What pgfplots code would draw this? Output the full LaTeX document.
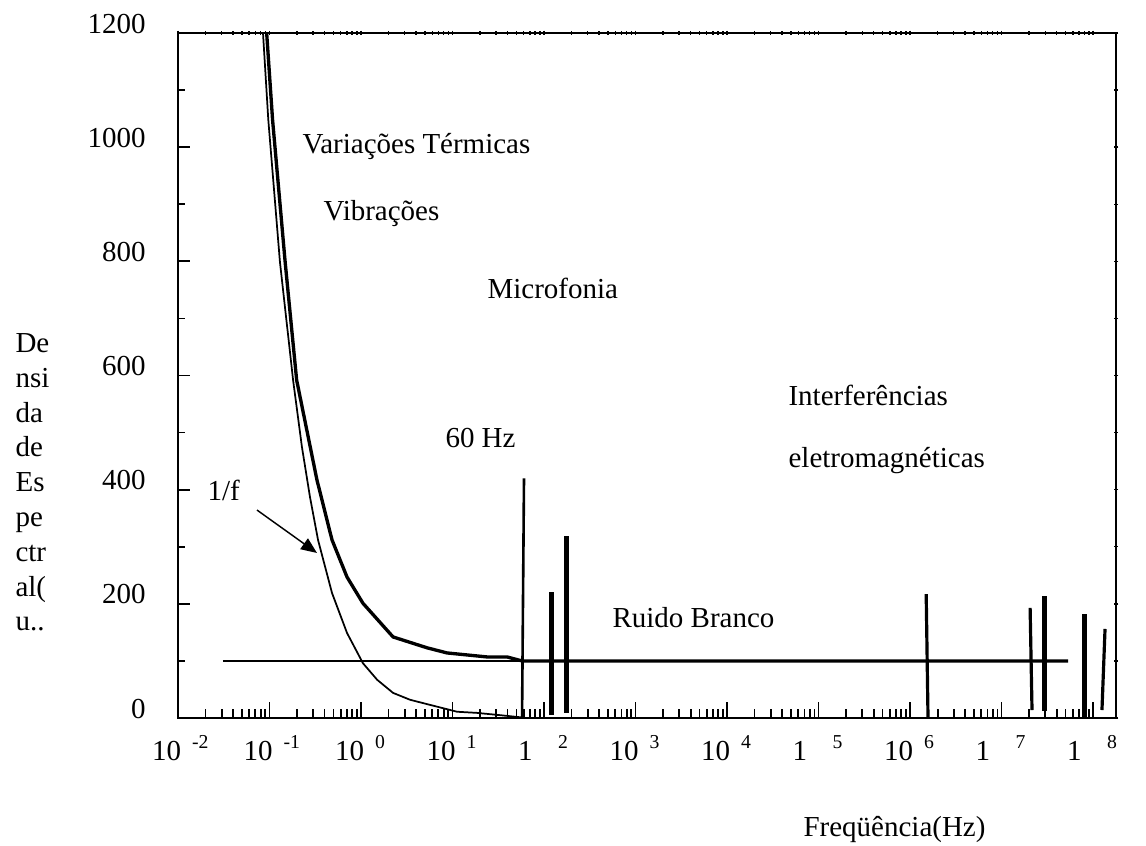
\documentclass[border=0pt]{standalone}
\usepackage{fontspec}
\setmainfont{Liberation Serif}
\usepackage{pgfplots}
\pgfplotsset{compat=1.18}
\usetikzlibrary{arrows.meta}
\newcommand{\sx}[2]{\llap{#1}\hspace{3.8pt}\raisebox{0.4em}{\fontsize{6.8}{8}\selectfont #2}}
\begin{document}
\begin{tikzpicture}
\useasboundingbox (-61.41pt,-43.815pt) rectangle (333.96pt,247.71pt);
\begin{axis}[
  at={(0,0)}, anchor=south west,
  scale only axis, width=323.61pt, height=236.325pt,
  xmode=log, xmin=1e-2, xmax=1.78e8,
  ymin=0, ymax=1200,
  axis line style={line width=0.7pt},
  tick pos=left, tick align=inside,
  tick style={black, line width=0.6pt},
  xtick style={/pgfplots/major tick length=5.5pt,/pgfplots/minor tick length=3.1pt},
  ytick style={/pgfplots/major tick length=4.1pt,/pgfplots/minor tick length=2.4pt},
  xtick={1e-2,1e-1,1,10,100,1000,1e4,1e5,1e6,1e7,1e8},
  xticklabels={\sx{10}{-2},\sx{10}{-1},\sx{10}{0},\sx{10}{1},\sx{1\phantom{0}}{2},\sx{10}{3},\sx{10}{4},\sx{1\phantom{0}}{5},\sx{10}{6},\sx{1\phantom{0}}{7},\sx{1\phantom{0}}{8}},
  minor xtick={2e-2,3e-2,4e-2,5e-2,6e-2,7e-2,8e-2,9e-2,
    0.2,0.3,0.4,0.5,0.6,0.7,0.8,0.9,
    2,3,4,5,6,7,8,9,
    20,30,40,50,60,70,80,90,
    200,300,400,500,600,700,800,900,
    2e3,3e3,4e3,5e3,6e3,7e3,8e3,9e3,
    2e4,3e4,4e4,5e4,6e4,7e4,8e4,9e4,
    2e5,3e5,4e5,5e5,6e5,7e5,8e5,9e5,
    2e6,3e6,4e6,5e6,6e6,7e6,8e6,9e6,
    2e7,3e7,4e7,5e7,6e7,7e7,8e7,9e7},
  xticklabel style={anchor=base west, inner sep=0pt, xshift=0.86pt, yshift=-14.5pt},
  ytick={0,200,400,600,800,1000,1200},
  yticklabels={0,200,400,600,800,1000,1200},
  minor ytick={100,300,500,700,900,1100},
  yticklabel style={anchor=base east, inner sep=0pt, xshift=-11pt},
  every axis x label/.style={at={(axis description cs:0.6663,-0.1723)}, anchor=base west, inner sep=0pt},
  xlabel={Freqüência(Hz)},
  every axis y label/.style={at={(axis description cs:-0.1738,0.562)}, anchor=north west, inner sep=0pt, align=left, font=\fontsize{10}{12}\selectfont},
  ylabel={De\\nsi\\da\\de\\Es\\pe\\ctr\\al(\\u..},
]
% thin white-noise line
\addplot[black, line width=0.6pt, mark=none] coordinates {(0.031,100) (5.33e7,100)};
% thin 1/f curve
\addplot[black, line width=0.6pt, mark=none] coordinates {
 (0.0849,1200) (0.097,1048) (0.130,799) (0.181,592) (0.226,475) (0.277,387)
 (0.339,312) (0.482,219) (0.703,149) (1.05,96) (1.50,67) (2.24,44) (3.43,32)
 (5.68,23) (11.2,11) (18.5,9) (33,5) (57.5,1)};
% thick total curve
\addplot[black, line width=1.15pt, mark=none] coordinates {
 (0.0931,1200) (0.108,1048) (0.148,800) (0.198,592) (0.33,417) (0.482,312)
 (0.703,247) (1.05,201) (2.24,142) (5.27,123) (8.71,114) (23.8,107) (39.4,107)
 (57.5,100) (5.33e7,100)};
% spikes
\addplot[black, line width=0.9pt, mark=none] coordinates {(57.5,0) (60.4,420)};
\addplot[black, line width=1.7pt, mark=none] coordinates {(122,5) (122,221)};
\addplot[black, line width=1.7pt, mark=none] coordinates {(174,9) (174,319)};
\addplot[black, line width=1.1pt, mark=none] coordinates {(1.57e6,2) (1.50e6,217)};
\addplot[black, line width=1.1pt, mark=none] coordinates {(2.15e7,14) (2.05e7,193)};
\addplot[black, line width=1.7pt, mark=none] coordinates {(2.91e7,12) (2.91e7,214)};
\addplot[black, line width=1.7pt, mark=none] coordinates {(7.98e7,2) (7.98e7,182)};
\addplot[black, line width=1.1pt, mark=none] coordinates {(1.25e8,14) (1.35e8,156)};
% annotations
\node[anchor=base west, inner sep=0pt] at (axis description cs:0.1322,0.8248) {Variações Térmicas};
\node[anchor=base west, inner sep=0pt] at (axis description cs:0.1546,0.7270) {Vibrações};
\node[anchor=base west, inner sep=0pt] at (axis description cs:0.3294,0.6131) {Microfonia};
\node[anchor=base west, inner sep=0pt] at (axis description cs:0.6503,0.4555) {Interferências};
\node[anchor=base west, inner sep=0pt] at (axis description cs:0.6503,0.3650) {eletromagnéticas};
\node[anchor=base west, inner sep=0pt] at (axis description cs:0.2846,0.3942) {60 Hz};
\node[anchor=base west, inner sep=0pt] at (axis description cs:0.0309,0.3182) {1/f};
\node[anchor=base west, inner sep=0pt] at (axis description cs:0.4627,0.1328) {Ruido Branco};
\draw[-{Triangle[length=5.5pt,width=4.5pt]}, line width=0.5pt] (axis description cs:0.0842,0.3036) -- (axis description cs:0.1482,0.2409);
\end{axis}
\begin{axis}[
  at={(0,0)}, anchor=south west,
  scale only axis, width=323.61pt, height=236.325pt,
  xmode=log, xmin=1e-2, xmax=1.78e8,
  ymin=0, ymax=1200,
  axis line style={line width=0.7pt},
  tick pos=right, tick align=center,
  tick style={black, line width=0.5pt},
  major tick length=1.6pt, minor tick length=1.2pt,
  xtick={1e-2,1e-1,1,10,100,1000,1e4,1e5,1e6,1e7,1e8},
  xticklabels={},
  minor xtick={2e-2,3e-2,4e-2,5e-2,6e-2,7e-2,8e-2,9e-2,
    0.2,0.3,0.4,0.5,0.6,0.7,0.8,0.9,
    2,3,4,5,6,7,8,9,
    20,30,40,50,60,70,80,90,
    200,300,400,500,600,700,800,900,
    2e3,3e3,4e3,5e3,6e3,7e3,8e3,9e3,
    2e4,3e4,4e4,5e4,6e4,7e4,8e4,9e4,
    2e5,3e5,4e5,5e5,6e5,7e5,8e5,9e5,
    2e6,3e6,4e6,5e6,6e6,7e6,8e6,9e6,
    2e7,3e7,4e7,5e7,6e7,7e7,8e7,9e7},
  ytick={0,200,400,600,800,1000,1200},
  yticklabels={},
  minor ytick={100,300,500,700,900,1100},
]
\end{axis}
\end{tikzpicture}
\end{document}
